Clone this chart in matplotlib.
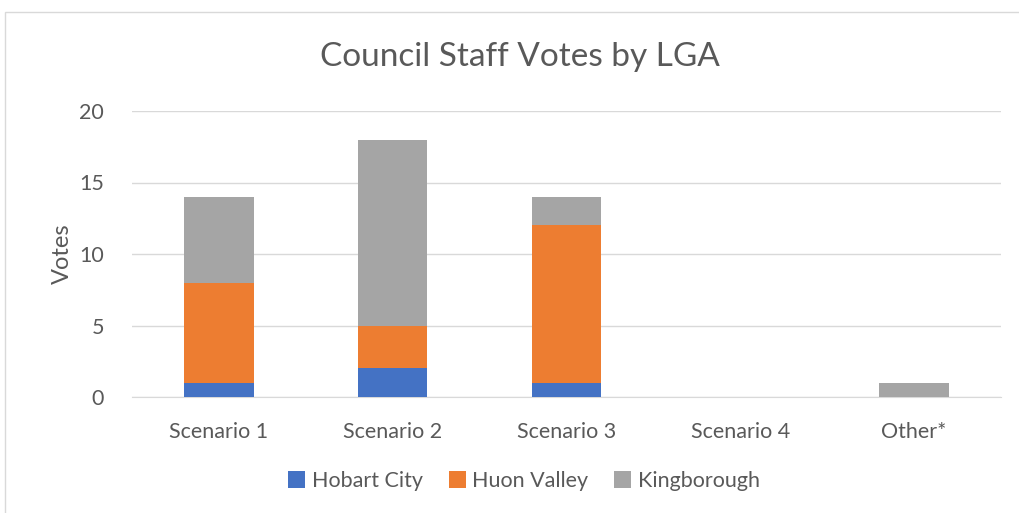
import numpy as np
import matplotlib.pyplot as plt
from matplotlib.patches import Rectangle

plt.rcParams['font.family'] = ['Lato', 'DejaVu Sans']

categories = ["Scenario 1", "Scenario 2", "Scenario 3", "Scenario 4", "Other*"]
hobart = [1, 2, 1, 0, 0]
huon = [7, 3, 11, 0, 0]
kingborough = [6, 13, 2, 0, 1]
series_names = ["Hobart City", "Huon Valley", "Kingborough"]
colors = ["#4472C4", "#ED7D31", "#A5A5A5"]
text_col = "#595959"

fig = plt.figure(figsize=(10.19, 5.13), dpi=100)
ax = fig.add_axes([132 / 1019, 1 - 397 / 513, 869 / 1019, 286 / 513])

# chart border
fig.patches.append(Rectangle((5 / 1019, -0.01), 1.02, 1 - 12 / 513 + 0.01,
                             transform=fig.transFigure, fill=False,
                             edgecolor="#D9D9D9", lw=1))

x = np.arange(len(categories))
bottom = np.zeros(len(categories))
for name, vals, c in zip(series_names, [hobart, huon, kingborough], colors):
    ax.bar(x, vals, 0.4, bottom=bottom, color=c, label=name, zorder=3)
    bottom += np.array(vals)

ax.set_xlim(-0.5, len(categories) - 0.5)
ax.set_ylim(0, 20)
ax.set_yticks([0, 5, 10, 15, 20])
ax.yaxis.grid(True, color="#D9D9D9", lw=1, zorder=0)
ax.set_xticks(x)
ax.set_xticklabels(categories)
for s in ["top", "right", "left"]:
    ax.spines[s].set_visible(False)
ax.spines["bottom"].set_color("#D9D9D9")
ax.tick_params(axis="both", length=0, labelsize=15.5, colors=text_col)
ax.tick_params(axis="y", pad=20)
ax.tick_params(axis="x", pad=18)

fig.text(62 / 1019, 1 - 254 / 513, "Votes", rotation=90, ha="center",
         va="center", fontsize=17, color=text_col)
fig.text(520 / 1019, 1 - 57 / 513, "Council Staff Votes by LGA", ha="center",
         va="center", fontsize=24, color=text_col)

handles, labels = ax.get_legend_handles_labels()
fig.legend(handles, labels, loc="center", bbox_to_anchor=(524 / 1019, 1 - 481 / 513),
           ncol=3, frameon=False, fontsize=15.5, labelcolor=text_col,
           handlelength=0.8, handleheight=0.8, handletextpad=0.3,
           columnspacing=1.2)

fig.savefig("out.png", dpi=100)
